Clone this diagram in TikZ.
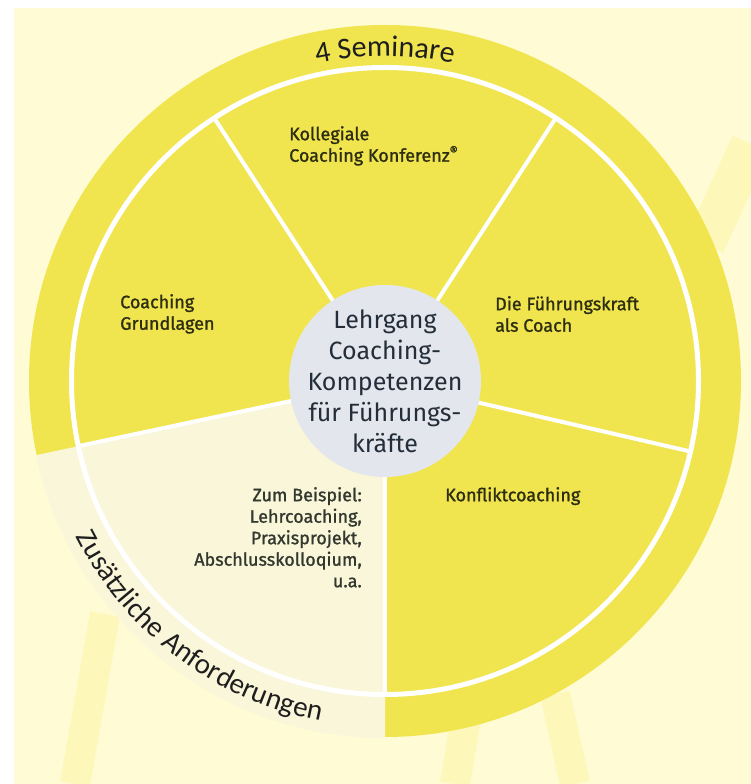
\documentclass[tikz,border=0pt]{standalone}
\usepackage{fontspec}
\setmainfont{Fira Sans}
\newfontfamily\ringfont{Carlito}
\newfontfamily\segfont[FakeBold=1.2]{Fira Sans}
\usepackage{xcolor}
\usetikzlibrary{decorations.text}

\definecolor{bgcream}{RGB}{255,251,212}
\definecolor{ringyellow}{RGB}{240,229,78}
\definecolor{palecream}{RGB}{250,246,218}
\definecolor{coregrey}{RGB}{227,231,237}
\definecolor{labelink}{RGB}{45,45,18}
\definecolor{paleink}{RGB}{50,56,46}
\definecolor{coreink}{RGB}{36,46,58}
\definecolor{ringink}{RGB}{30,30,30}
\definecolor{streak}{RGB}{253,247,186}

% pie piece: start angle, end angle, radius, colour
\newcommand{\sectorfill}[4]{
	\fill[#4] (C) -- ([shift={(#1:#3)}]C) arc[start angle=#1, end angle=#2, radius=#3] -- cycle;
}

\tikzset{
	divider/.style={white, line width=4pt},
	seglabel/.style={inner sep=0pt, text=labelink, align=left,
		font=\segfont\fontsize{18}{21.5}\selectfont},
	corefill/.style={circle, fill=coregrey, minimum size=192pt, inner sep=0pt},
	coretext/.style={inner sep=0pt, text=coreink, align=center,
		font=\fontsize{25}{31}\selectfont}
}

\begin{document}
\begin{tikzpicture}[x=1pt, y=1pt]
	\useasboundingbox (0,0) rectangle (751,784);
	\fill[white] (0,0) rectangle (751,784);
	\fill[bgcream] (14,0) rectangle (751,776);
	%
	% faint streaks behind the wheel
	\draw[streak, line width=30pt] (75,0) -- (105,170);
	\draw[streak, line width=30pt] (455,0) -- (470,90);
	\draw[streak, line width=30pt] (575,0) -- (555,90);
	\draw[streak, line width=40pt] (705,540) -- (751,640);
	%
	\coordinate (C) at (385,403);
	%
	% outer ring
	\fill[ringyellow] (C) circle[radius=356];
	\sectorfill{192}{270}{357}{palecream}
	%
	% white ring line
	\draw[white, line width=5pt] (C) circle[radius=313.5];
	%
	% dividers
	\foreach \a in {57,123,192,270,347}
		\draw[divider] (C) -- ++(\a:314);
	%
	\node[corefill] (core) at (C) {};
	\node[coretext] (title) at (core) {Lehrgang\\Coaching-\\Kompetenzen\\für Führungs-\\kräfte};
	%
	\node[seglabel, anchor=north west] (kollegial) at (289,658) {Kollegiale\\Coaching Konferenz\textsuperscript{®}};
	\node[seglabel, anchor=north west] (grundlagen) at (120,490) {Coaching\\Grundlagen};
	\node[seglabel, anchor=north west] (fuehrung) at (495,488) {Die Führungskraft\\als Coach};
	\node[seglabel, anchor=north west] (konflikt) at (445,297) {Konfliktcoaching};
	\node[seglabel, anchor=north east, align=right, text=paleink] (beispiel) at (362,297)
		{Zum Beispiel:\\Lehrcoaching,\\Praxisprojekt,\\Abschlusskolloqium,\\u.a.};
	%
	% ring titles
	\path[decorate, decoration={text along path, text align=center,
		text={|\ringfont\fontsize{30}{30}\selectfont\color{ringink}|4 Seminare}}]
		([shift={(115:325)}]C) arc[start angle=115, end angle=65, radius=325];
	\path[decorate, decoration={text along path, text align=center,
		text={|\ringfont\fontsize{29}{29}\selectfont\color{ringink}|Zusätzliche Anforderungen}}]
		([shift={(190:346)}]C) arc[start angle=190, end angle=276, radius=346];
\end{tikzpicture}
\end{document}
